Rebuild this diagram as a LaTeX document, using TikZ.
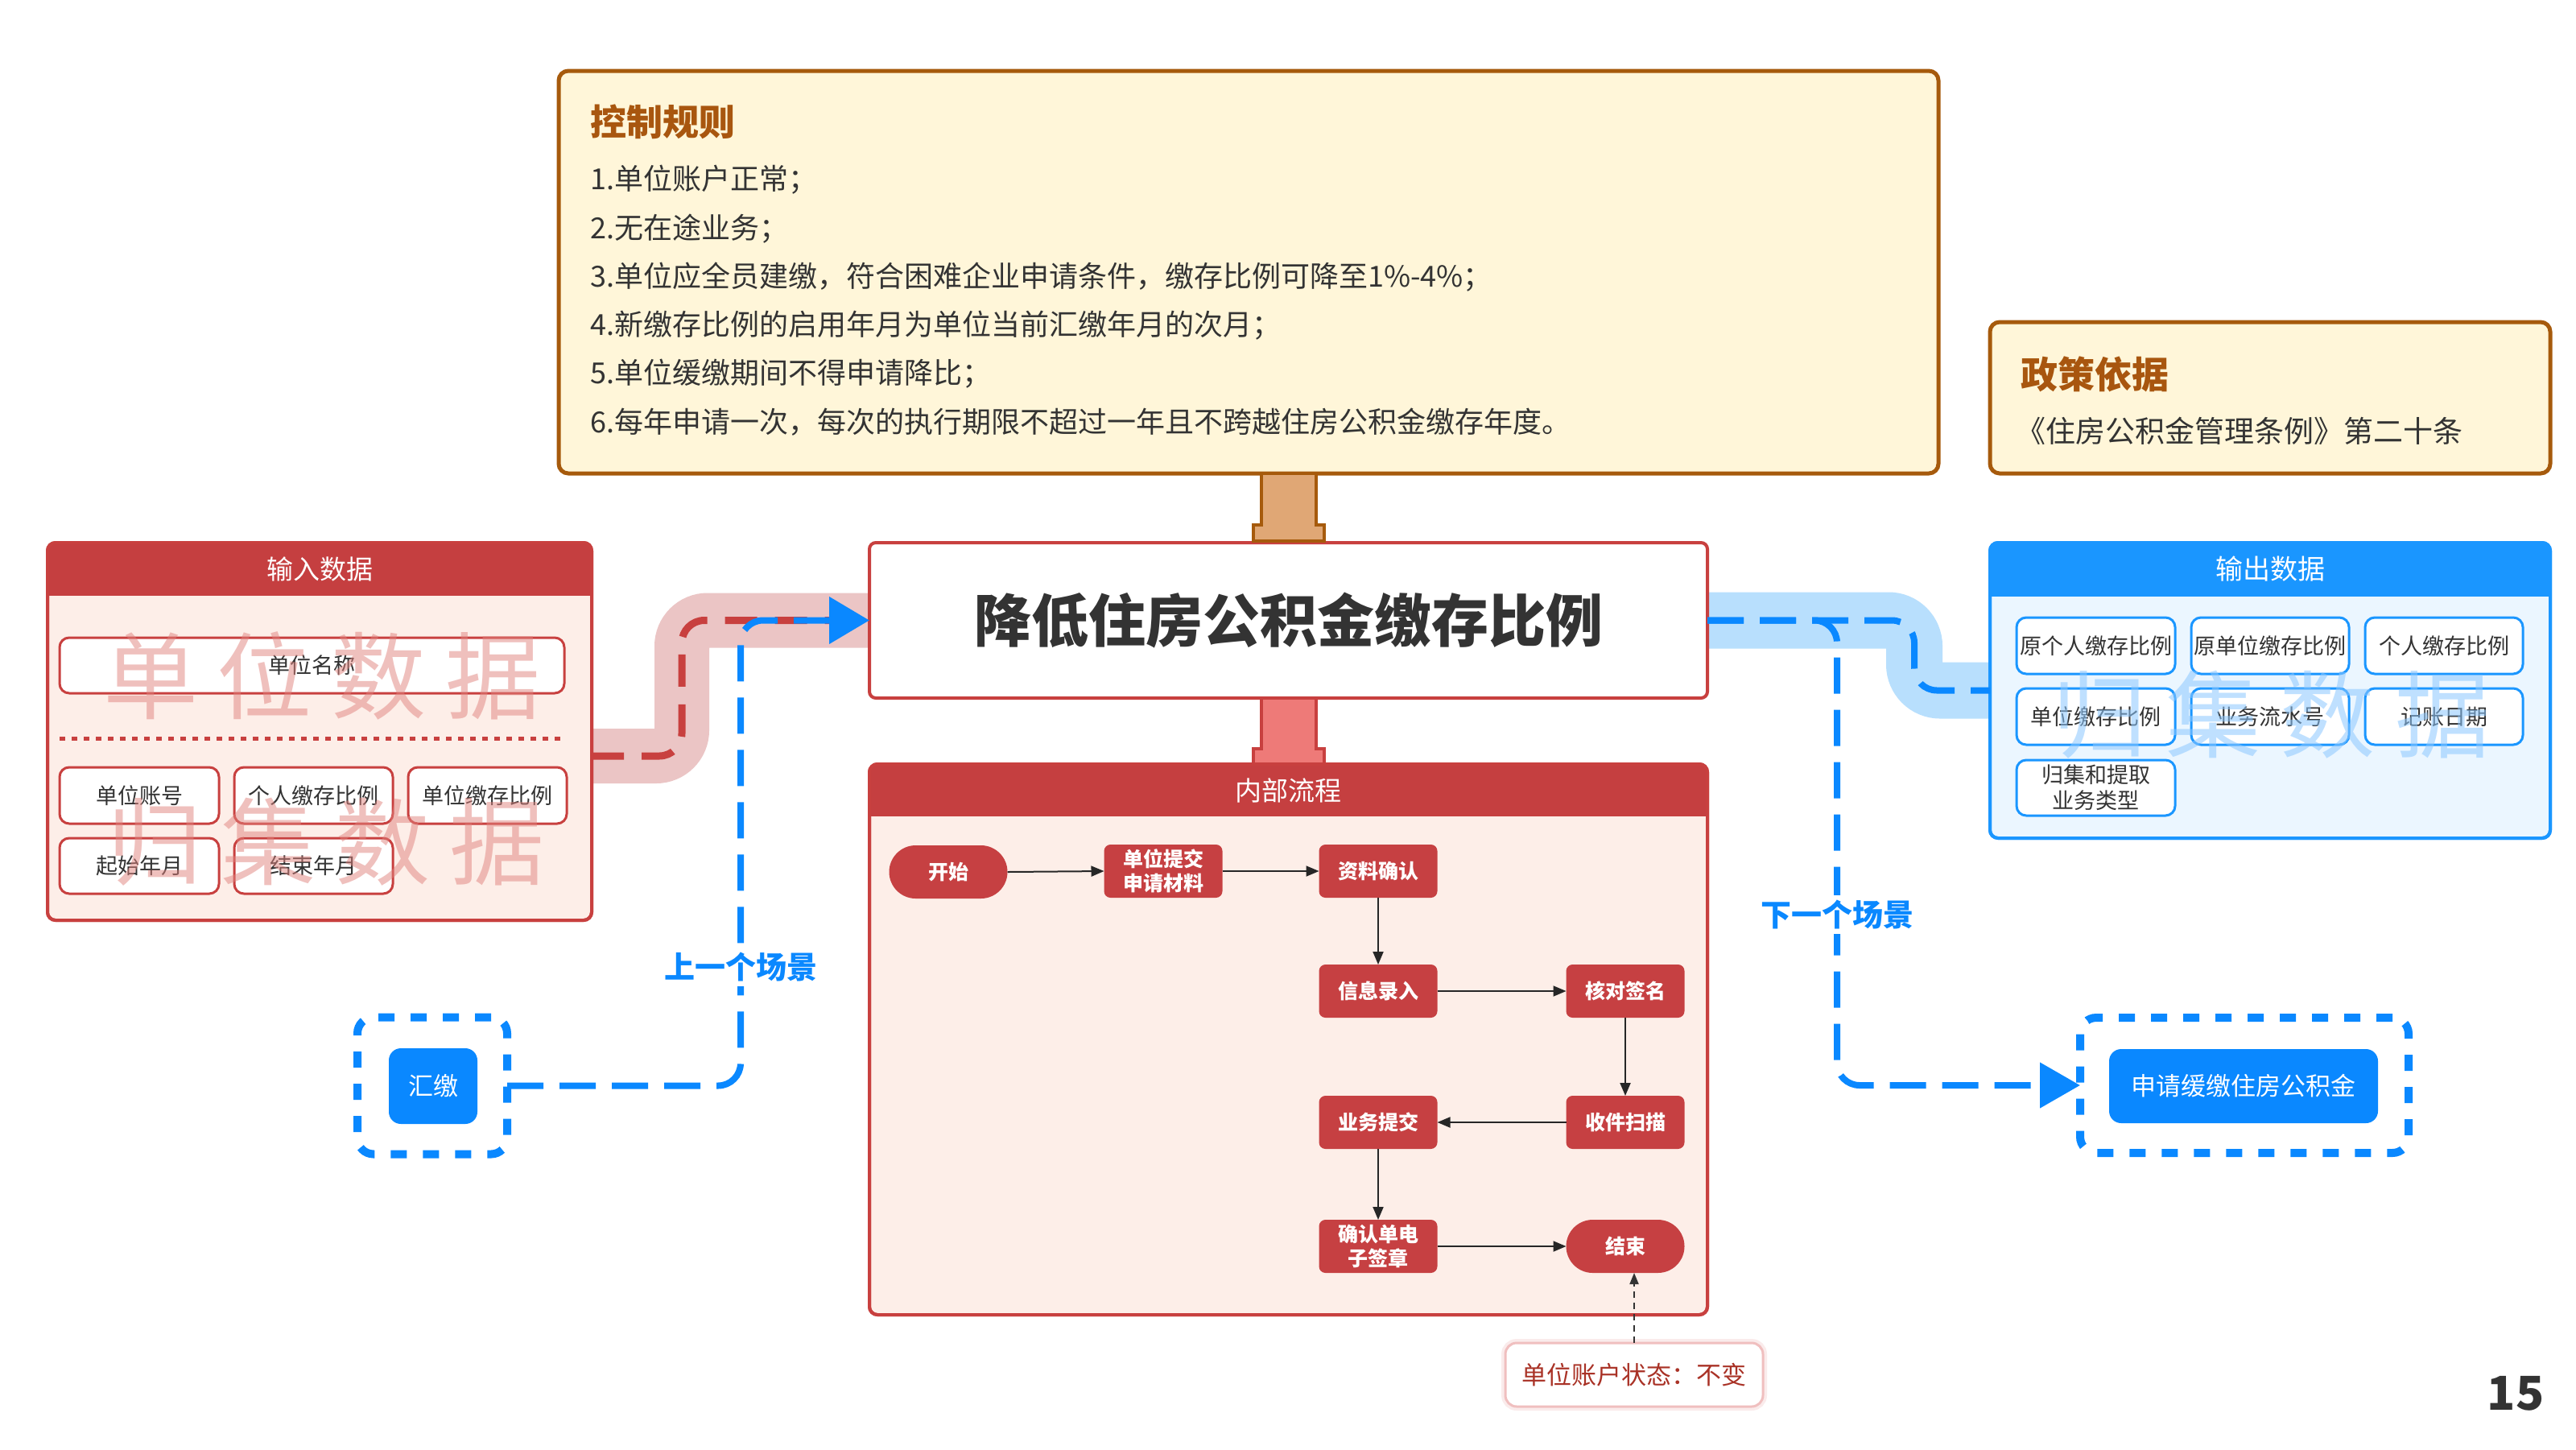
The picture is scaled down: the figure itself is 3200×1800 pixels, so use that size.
\documentclass[tikz,border=0pt]{standalone}
\usepackage{fontspec}
\setmainfont{Noto Sans CJK SC}
\usetikzlibrary{arrows.meta,calc}
\definecolor{creamF}{HTML}{FFF6D9}
\definecolor{brownB}{HTML}{A65A0C}
\definecolor{brownT}{HTML}{A8560F}
\definecolor{tanF}{HTML}{E0A775}
\definecolor{redB}{HTML}{C8403F}
\definecolor{redH}{HTML}{C53F40}
\definecolor{pinkF}{HTML}{FDEEE8}
\definecolor{connRed}{HTML}{EE7A78}
\definecolor{bandPink}{HTML}{EBC5C5}
\definecolor{bandBlue}{HTML}{B8DFFD}
\definecolor{blueH}{HTML}{1A96FF}
\definecolor{blueL}{HTML}{0A88FF}
\definecolor{blueF}{HTML}{EBF6FF}
\definecolor{txtG}{HTML}{333333}
\definecolor{noteR}{HTML}{A93226}
\definecolor{noteB}{HTML}{F0BFBF}
\definecolor{wmRed}{HTML}{E1827D}
\definecolor{wmBlue}{HTML}{8CC8FF}
\definecolor{flowRed}{HTML}{C64042}
\pgfdeclarelayer{bg}
\pgfdeclarelayer{band}
\pgfsetlayers{bg,band,main}
\newcommand\myfs[2]{\fontsize{#1}{#2}\selectfont}
\tikzset{
  ctrlbox/.style={draw=brownB, fill=creamF, line width=5pt, rounded corners=12pt, inner sep=0pt, outer sep=0pt},
  ctitle/.style={anchor=west, inner sep=0pt, text=brownT, font=\myfs{45}{53}\bfseries},
  ruletext/.style={anchor=west, inner sep=0pt, text=txtG, font=\myfs{36}{43}},
  mainbox/.style={draw=redB, fill=white, line width=4pt, rounded corners=8pt, inner sep=0pt, outer sep=0pt, text=txtG, font=\myfs{71}{84}\bfseries},
  framebox/.style={line width=4pt, rounded corners=10pt, inner sep=0pt, outer sep=0pt},
  headtext/.style={text=white, inner sep=0pt, font=\myfs{33}{40}},
  redcell/.style={draw=redB, fill=white, line width=3pt, rounded corners=12pt, inner sep=0pt, outer sep=0pt, text=txtG, font=\myfs{27}{32}, align=center},
  bluecell/.style={draw=blueH, fill=white, line width=3pt, rounded corners=12pt, inner sep=0pt, outer sep=0pt, text=txtG, font=\myfs{27}{32}, align=center},
  wmtext/.style={inner sep=0pt, opacity=0.5, font=\myfs{118}{130}},
  flowbox/.style={fill=flowRed, rounded corners=8pt, minimum width=147pt, minimum height=66pt, text=white, font=\myfs{25}{30}\bfseries, align=center, inner sep=0pt, outer sep=0pt},
  stadium/.style={flowbox, rounded corners=33pt},
  flowarrow/.style={draw=black!85, line width=2pt, -{Triangle[length=16pt,width=13pt]}},
  scenebox/.style={draw=blueL, line width=10pt, dash pattern=on 20pt off 20pt, rounded corners=20pt, inner sep=0pt, outer sep=0pt},
  scenenode/.style={fill=blueL, rounded corners=15pt, text=white, font=\myfs{31}{37}, inner sep=0pt, outer sep=0pt},
  bluedash/.style={draw=blueL, line width=8pt, dash pattern=on 45pt off 20pt, rounded corners=28pt},
  reddash/.style={draw=redB, line width=9pt, dash pattern=on 40pt off 22pt, rounded corners=28pt},
  scenelabel/.style={fill=white, text=blueL, font=\myfs{38}{45}\bfseries, inner sep=6pt},
  notebox/.style={fill=white, draw=noteB, line width=3pt, rounded corners=14pt, inner sep=0pt, outer sep=0pt, text=noteR, font=\myfs{31}{37}, preaction={draw=noteB, line width=10pt, opacity=0.3}},
  notearrow/.style={draw=txtG, line width=2pt, dash pattern=on 8pt off 6pt, -{Triangle[length=14pt,width=11pt]}}
}
\begin{document}
\begin{tikzpicture}[x=1pt,y=-1pt]
\begin{pgfonlayer}{bg}
\fill[white] (0,0) rectangle (3200,1800);
\end{pgfonlayer}
\useasboundingbox (0,0) rectangle (3200,1800);

% ---------- control rules ----------
\node[ctrlbox, minimum width=1714pt, minimum height=500pt] (ctrl) at (1551,338) {};
\node[ctitle] (ctrlT) at (733,151) {控制规则};
\node[ruletext] (r1) at (733,223) {1.单位账户正常；};
\node[ruletext] (r2) at (733,284) {2.无在途业务；};
\node[ruletext] (r3) at (733,344) {3.单位应全员建缴，符合困难企业申请条件，缴存比例可降至1\%-4\%；};
\node[ruletext] (r4) at (733,404) {4.新缴存比例的启用年月为单位当前汇缴年月的次月；};
\node[ruletext] (r5) at (733,464) {5.单位缓缴期间不得申请降比；};
\node[ruletext] (r6) at (733,524) {6.每年申请一次，每次的执行期限不超过一年且不跨越住房公积金缴存年度。};

% ---------- policy ----------
\node[ctrlbox, minimum width=696pt, minimum height=188pt] (policy) at (2820,494) {};
\node[ctitle, font=\myfs{46}{55}\bfseries] (policyT) at (2510,465) {政策依据};
\node[ruletext, font=\myfs{37}{44}] (policyX) at (2504,535) {《住房公积金管理条例》第二十条};

% ---------- main ----------
\node[mainbox, minimum width=1041pt, minimum height=193pt] (main) at (1600.5,770.5) {降低住房公积金缴存比例};

% ---------- input data ----------
\node[framebox, draw=redB, fill=pinkF, minimum width=676pt, minimum height=469pt] (inbox) at (397,908.5) {};
\begin{scope}
\clip[rounded corners=10pt] (inbox.north west) rectangle (inbox.south east);
\fill[redH] (inbox.north west) rectangle ($(inbox.north east)+(0,66)$);
\end{scope}
\draw[redB, line width=4pt, rounded corners=10pt] (inbox.north west) rectangle (inbox.south east);
\node[headtext] (inT) at ($(inbox.north)+(0,33)$) {输入数据};
\node[redcell, minimum width=627pt, minimum height=69pt] (inName) at (387.5,826.5) {单位名称};
\draw[redB, line width=5pt, dash pattern=on 7pt off 8pt] ($(inName.south west)+(0,56)$) -- ($(inName.south east)+(0,56)$);
\node[redcell, minimum width=198pt, minimum height=70pt] (inAcct) at (173,988) {单位账号};
\node[redcell, minimum width=197pt, minimum height=70pt] (inPr) at (389.5,988) {个人缴存比例};
\node[redcell, minimum width=197pt, minimum height=70pt] (inUr) at (605.5,988) {单位缴存比例};
\node[redcell, minimum width=198pt, minimum height=69pt] (inS) at (173,1075.5) {起始年月};
\node[redcell, minimum width=197pt, minimum height=69pt] (inE) at (389.5,1075.5) {结束年月};
\node[wmtext, text=wmRed] (wmA) at (400,839) {单\hspace{24pt}位\hspace{24pt}数\hspace{24pt}据};
\node[wmtext, text=wmRed] (wmB) at (405,1046) {归\hspace{24pt}集\hspace{24pt}数\hspace{24pt}据};

% ---------- output data ----------
\node[framebox, draw=blueH, fill=blueF, minimum width=696pt, minimum height=367pt] (outbox) at (2820,857.5) {};
\begin{scope}
\clip[rounded corners=10pt] (outbox.north west) rectangle (outbox.south east);
\fill[blueH] (outbox.north west) rectangle ($(outbox.north east)+(0,67)$);
\end{scope}
\draw[blueH, line width=4pt, rounded corners=10pt] (outbox.north west) rectangle (outbox.south east);
\node[headtext, font=\myfs{34}{40}] (outT) at ($(outbox.north)+(0,33)$) {输出数据};
\node[bluecell, minimum width=197pt, minimum height=70pt] (o1) at (2603.5,802) {原个人缴存比例};
\node[bluecell, minimum width=196pt, minimum height=70pt] (o2) at (2820,802) {原单位缴存比例};
\node[bluecell, minimum width=196pt, minimum height=70pt] (o3) at (3036,802) {个人缴存比例};
\node[bluecell, minimum width=197pt, minimum height=70pt] (o4) at (2603.5,890) {单位缴存比例};
\node[bluecell, minimum width=196pt, minimum height=70pt] (o5) at (2820,890) {业务流水号};
\node[bluecell, minimum width=196pt, minimum height=70pt] (o6) at (3036,890) {记账日期};
\node[bluecell, minimum width=197pt, minimum height=69pt] (o7) at (2603.5,978.5) {归集和提取\\业务类型};
\node[wmtext, text=wmBlue, opacity=0.55] (wmC) at (2821,888) {归\hspace{24pt}集\hspace{24pt}数\hspace{24pt}据};

% ---------- internal process ----------
\node[framebox, draw=redB, fill=pinkF, minimum width=1041pt, minimum height=684pt] (inner) at (1600.5,1291) {};
\begin{scope}
\clip[rounded corners=10pt] (inner.north west) rectangle (inner.south east);
\fill[redH] (inner.north west) rectangle ($(inner.north east)+(0,65)$);
\end{scope}
\draw[redB, line width=4pt, rounded corners=10pt] (inner.north west) rectangle (inner.south east);
\node[headtext] (innerT) at ($(inner.north)+(0,33)$) {内部流程};

\node[stadium] (start) at (1178,1083) {开始};
\node[flowbox] (submit) at (1445,1082) {单位提交\\申请材料};
\node[flowbox] (confirm) at (1712,1082) {资料确认};
\node[flowbox] (entry) at (1712,1231) {信息录入};
\node[flowbox] (verify) at (2019,1231) {核对签名};
\node[flowbox] (scan) at (2019,1394) {收件扫描};
\node[flowbox] (bsub) at (1712,1394) {业务提交};
\node[flowbox] (esign) at (1712,1548) {确认单电\\子签章};
\node[stadium] (endn) at (2019,1548) {结束};

\draw[flowarrow] (start.east) -- (submit.west);
\draw[flowarrow] (submit.east) -- (confirm.west);
\draw[flowarrow] (confirm.south) -- (entry.north);
\draw[flowarrow] (entry.east) -- (verify.west);
\draw[flowarrow] (verify.south) -- (scan.north);
\draw[flowarrow] (scan.west) -- (bsub.east);
\draw[flowarrow] (bsub.south) -- (esign.north);
\draw[flowarrow] (esign.east) -- (endn.west);

% ---------- connectors between boxes ----------
\coordinate (tc) at (main.north |- ctrl.south);
\draw[draw=brownB, fill=tanF, line width=4pt] ($(tc)+(-34,2)$) -- ($(tc)+(-34,64)$) -- ($(tc)+(-44,64)$) -- ($(main.north)+(-44,-2)$) -- ($(main.north)+(44,-2)$) -- ($(tc)+(44,64)$) -- ($(tc)+(34,64)$) -- ($(tc)+(34,2)$);
\draw[draw=redB, fill=connRed, line width=4pt] ($(main.south)+(-34,2)$) -- ($(main.south)+(-34,63)$) -- ($(main.south)+(-44,63)$) -- ($(inner.north)+(-44,0)$) -- ($(inner.north)+(44,0)$) -- ($(main.south)+(44,63)$) -- ($(main.south)+(34,63)$) -- ($(main.south)+(34,2)$);

% ---------- scenes ----------
\node[scenebox, minimum width=186pt, minimum height=170pt] (hjbox) at (537,1348.5) {};
\node[scenenode, minimum width=110pt, minimum height=94pt] (hj) at (538,1349) {汇缴};
\node[scenebox, minimum width=408pt, minimum height=168pt] (sqbox) at (2788,1348) {};
\node[scenenode, minimum width=334pt, minimum height=92pt] (sq) at (2787,1349) {申请缓缴住房公积金};

% ---------- bands ----------
\begin{pgfonlayer}{band}
\draw[line width=68pt, color=bandPink, rounded corners=32pt] ($(inbox.east)+(-20,30.5)$) -| ($(main.west)+(-233,0)$) -- ($(main.west)+(20,0)$);
\draw[line width=70pt, color=bandBlue, rounded corners=32pt] ($(main.east)+(-20,0)$) -| ($(outbox.west)+(-94,0)$) -- ($(outbox.west)+(20,0)$);
\end{pgfonlayer}

% ---------- dashed flows ----------
\draw[reddash] ($(inbox.east)+(0,30.5)$) -| ($(main.west)+(-233,0)$) -- (main.west);
\draw[bluedash, -{Triangle[length=50pt,width=57pt]}] (hjbox.east) -| ($(main.west)+(-160,0)$) -- (main.west);
\draw[bluedash] (main.east) -| ($(outbox.west)+(-94,0)$) -- (outbox.west);
\draw[bluedash, -{Triangle[length=50pt,width=55pt]}] (main.east) -| ($(sqbox.west)+(-302,0)$) -- (sqbox.west);
\node[scenelabel] (prevL) at (920,1201) {上一个场景};
\node[scenelabel] (nextL) at (2282,1136) {下一个场景};

% ---------- note ----------
\node[notebox, minimum width=320pt, minimum height=79pt] (note) at (2030,1707.5) {单位账户状态：不变};
\draw[notearrow] (note.north) -- (note.north |- endn.south);

% ---------- page number ----------
\node[text=txtG, font=\myfs{58}{64}\bfseries, inner sep=0pt] (pg) at (3125,1731) {15};
\end{tikzpicture}
\end{document}
